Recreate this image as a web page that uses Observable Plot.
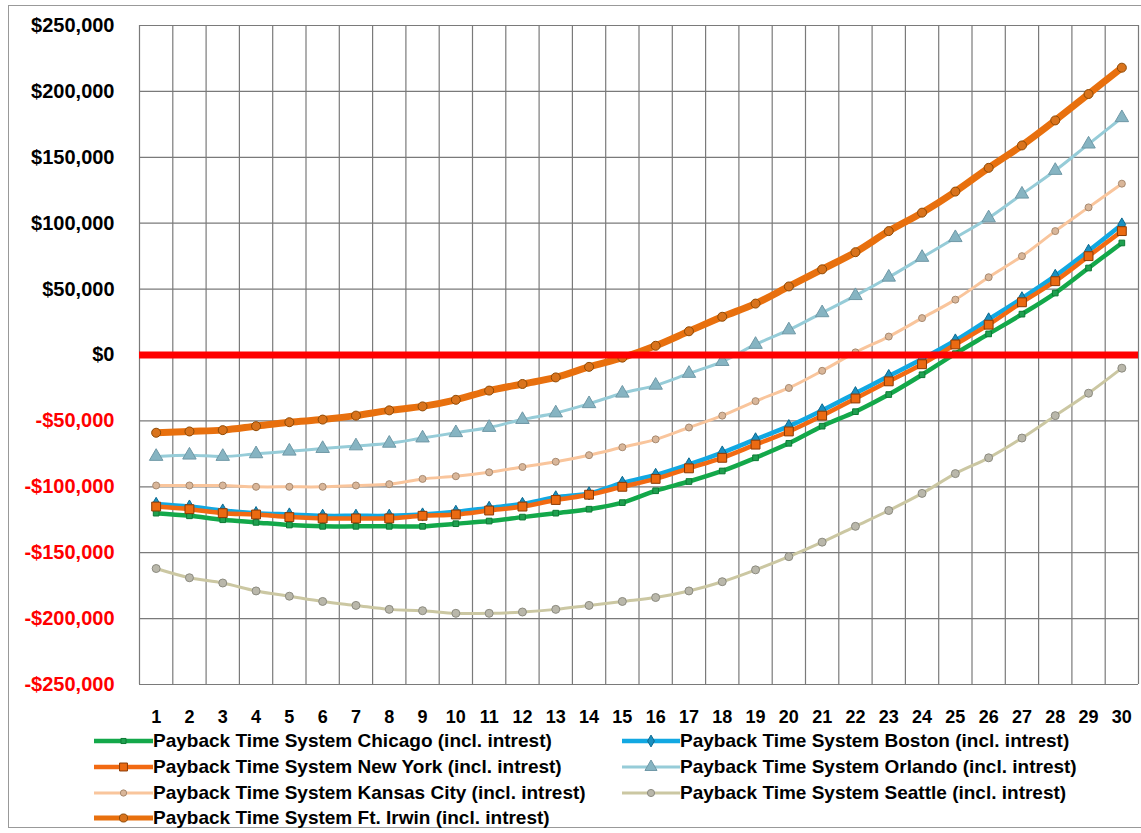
<!DOCTYPE html>
<html>
<head>
<meta charset="utf-8">
<script src="https://cdn.jsdelivr.net/npm/d3@7"></script>
<script src="https://cdn.jsdelivr.net/npm/@observablehq/plot@0.6"></script>
<style>
  body { margin:0; background:#fff; font-family:"Liberation Sans", Arial, sans-serif; }
  #frame { position:absolute; left:8px; top:5px; width:1140px; height:823px; border:1px solid #999; box-sizing:border-box; }
  #chart { position:absolute; left:0; top:0; }
  .leg { position:absolute; display:flex; align-items:center; font-weight:bold; font-size:19px; color:#000; white-space:nowrap; }
  .leg svg { display:block; }
</style>
</head>
<body>
<div id="frame"></div>
<div id="chart"></div>
<div id="legend"></div>
<script>
const years = [1,2,3,4,5,6,7,8,9,10,11,12,13,14,15,16,17,18,19,20,21,22,23,24,25,26,27,28,29,30];
const yTicks = [250000,200000,150000,100000,50000,0,-50000,-100000,-150000,-200000,-250000];

const seriesNames = [
  "Payback Time System Chicago (incl. intrest)",
  "Payback Time System Boston (incl. intrest)",
  "Payback Time System New York (incl. intrest)",
  "Payback Time System Orlando (incl. intrest)",
  "Payback Time System Kansas City (incl. intrest)",
  "Payback Time System Seattle (incl. intrest)",
  "Payback Time System Ft. Irwin (incl. intrest)"
];

// values in thousands of dollars
const chicago  = [-120,-122,-125,-127,-129,-130,-130,-130,-130,-128,-126,-123,-120,-117,-112,-103,-96,-88,-78,-67,-54,-43,-30,-15,1,16,31,47,66,85];
const boston   = [-113,-115,-118,-120,-121,-122,-122,-122,-121,-119,-116,-113,-108,-105,-97,-91,-83,-74,-64,-54,-42,-29,-16,-3,11,27,43,60,79,99];
const newYork  = [-115,-117,-120,-121,-123,-124,-124,-124,-122,-121,-118,-115,-110,-106,-100,-94,-86,-78,-68,-58,-46,-33,-20,-7,8,23,40,56,75,94];
const orlando  = [-77,-76,-77,-75,-73,-71,-69,-67,-63,-59,-55,-49,-44,-37,-29,-23,-14,-5,8,19,32,45,59,74,89,104,122,140,160,180];
const kansas   = [-99,-99,-99,-100,-100,-100,-99,-98,-94,-92,-89,-85,-81,-76,-70,-64,-55,-46,-35,-25,-12,2,14,28,42,59,75,94,112,130];
const seattle  = [-162,-169,-173,-179,-183,-187,-190,-193,-194,-196,-196,-195,-193,-190,-187,-184,-179,-172,-163,-153,-142,-130,-118,-105,-90,-78,-63,-46,-29,-10];
const ftIrwin  = [-59,-58,-57,-54,-51,-49,-46,-42,-39,-34,-27,-22,-17,-9,-2,7,18,29,39,52,65,78,94,108,124,142,159,178,198,218];

const seriesValues = [chicago, boston, newYork, orlando, kansas, seattle, ftIrwin];

const styles = [
  {stroke:"#13A84A", width:4.5, symbol:"square", r:3.2, fill:"#1FA050", mstroke:"#0E7A35"},
  {stroke:"#12A8E2", width:4.5, symbol:"diamond", r:4, fill:"#1A8FC0", mstroke:"#0C6A90"},
  {stroke:"#F26A12", width:4.5, symbol:"square", r:5, fill:"#EB6A12", mstroke:"#8A3A05"},
  {stroke:"#96CCD8", width:3, symbol:"triangle", r:5, fill:"#86B4C2", mstroke:"#6F98A6"},
  {stroke:"#F9C59C", width:3, symbol:"circle", r:3.5, fill:"#D9B699", mstroke:"#A88A70"},
  {stroke:"#CBC7A2", width:3, symbol:"circle", r:4, fill:"#B9B7AA", mstroke:"#8C8B80"},
  {stroke:"#E8700E", width:7, symbol:"circle", r:4.5, fill:"#D9731C", mstroke:"#8E4A06"}
];

const rows = [];
seriesNames.forEach((name, si) => {
  years.forEach((yr, i) => rows.push({series: si, year: yr, value: seriesValues[si][i] * 1000}));
});

const fmt = v => (v < 0 ? "-" : "") + "$" + d3.format(",")(Math.abs(v));
const boundaries = years.map(y => y - 0.5).concat([years[years.length-1] + 0.5]);

const marks = [
  Plot.ruleY(yTicks, {stroke:"#7a7a7a", strokeWidth:1.2}),
  Plot.ruleX(boundaries, {stroke:"#7a7a7a", strokeWidth:1.2})
];
seriesNames.forEach((name, si) => {
  const st = styles[si];
  const data = rows.filter(d => d.series === si);
  marks.push(Plot.line(data, {x:"year", y:"value", stroke:st.stroke, strokeWidth:st.width, curve:"catmull-rom"}));
  marks.push(Plot.dot(data, {x:"year", y:"value", symbol:st.symbol, r:st.r, fill:st.fill, stroke:st.mstroke, strokeWidth:1}));
});
marks.push(Plot.ruleY([0], {stroke:"#FF0000", strokeWidth:7}));
marks.push(Plot.text(yTicks.filter(v => v >= 0), {y: d => d, text: fmt, frameAnchor:"left", textAnchor:"end", dx:-25, fill:"#000", fontSize:20, fontWeight:"bold"}));
marks.push(Plot.text(yTicks.filter(v => v < 0), {y: d => d, text: fmt, frameAnchor:"left", textAnchor:"end", dx:-25, fill:"#FF0000", fontSize:20, fontWeight:"bold"}));
marks.push(Plot.axisX(years, {tickSize:0, tickPadding:26, fontSize:18, fontWeight:"bold", fill:"#000"}));

const chart = Plot.plot({
  width: 1141,
  height: 735,
  marginTop: 25,
  marginBottom: 51,
  marginLeft: 139,
  marginRight: 3,
  style: {fontFamily: "Liberation Sans, Arial, sans-serif", background: "transparent", overflow: "visible"},
  x: {type: "linear", domain: [0.5, 30.5], label: null},
  y: {domain: [-250000, 250000], axis: null},
  marks
});
document.getElementById("chart").appendChild(chart);

// legend
const legPos = [
  {left: 94, top: 741, sw: 59},
  {left: 622, top: 741, sw: 58},
  {left: 94, top: 767, sw: 59},
  {left: 622, top: 767, sw: 58},
  {left: 94, top: 793, sw: 59},
  {left: 622, top: 793, sw: 58},
  {left: 94, top: 818, sw: 59}
];
const legend = document.getElementById("legend");
seriesNames.forEach((name, si) => {
  const st = styles[si];
  const p = legPos[si];
  const div = document.createElement("div");
  div.className = "leg";
  div.style.left = p.left + "px";
  div.style.top = (p.top - 12) + "px";
  div.style.height = "24px";
  const svg = d3.create("svg").attr("width", p.sw).attr("height", 24);
  svg.append("line").attr("x1", 0).attr("x2", p.sw).attr("y1", 12).attr("y2", 12)
    .attr("stroke", st.stroke).attr("stroke-width", Math.min(st.width, 5));
  const sym = {square: d3.symbolSquare, diamond: d3.symbolDiamond, triangle: d3.symbolTriangle, circle: d3.symbolCircle}[st.symbol];
  svg.append("path").attr("d", d3.symbol(sym, Math.PI * st.r * st.r * 0.8)())
    .attr("transform", `translate(${p.sw/2},12)`)
    .attr("fill", st.fill).attr("stroke", st.mstroke);
  div.appendChild(svg.node());
  const span = document.createElement("span");
  span.textContent = name;
  div.appendChild(span);
  legend.appendChild(div);
});
</script>
</body>
</html>
